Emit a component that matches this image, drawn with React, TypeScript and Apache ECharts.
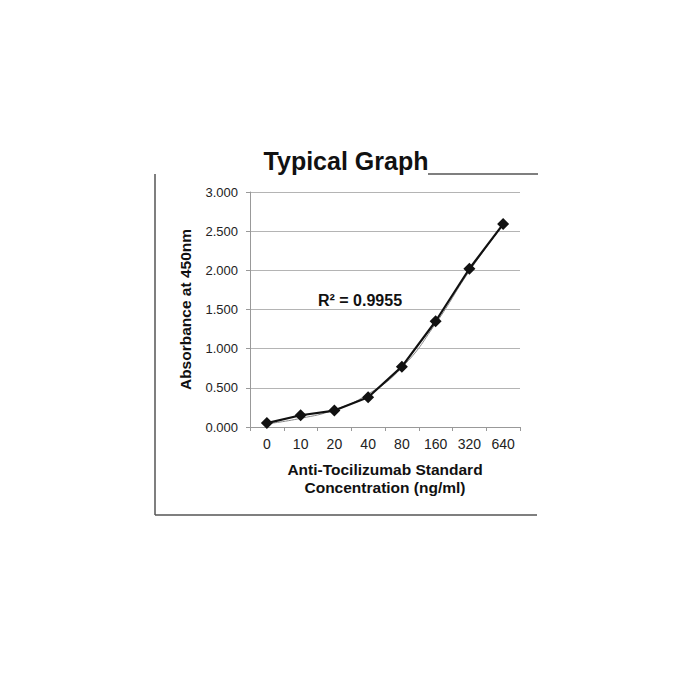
import { useEffect, useRef } from 'react';
import * as echarts from 'echarts';

// concentrations (ng/ml) on the category axis
const categories = ['0', '10', '20', '40', '80', '160', '320', '640'];
// mean absorbance at 450nm
const absorbance = [0.05, 0.15, 0.21, 0.38, 0.77, 1.35, 2.02, 2.59];
// thin grey trend line drawn behind the data
const trend = [0.04, 0.11, 0.22, 0.42, 0.76, 1.32, 1.99, 2.58];
const yTicks = [0, 0.5, 1, 1.5, 2, 2.5, 3];
const rSquared = 'R² = 0.9955';

const FONT = '"Liberation Sans", Arial, sans-serif';

const App = () => {
    const chartRef = useRef<HTMLDivElement>(null);

    useEffect(() => {
        if (!chartRef.current) return;
        const chart = echarts.init(chartRef.current, undefined, { renderer: 'svg' });

        chart.setOption({
            animation: false,
            backgroundColor: '#fff',
            textStyle: { fontFamily: FONT },
            graphic: [
                {
                    type: 'text',
                    x: 346,
                    y: 161,
                    style: {
                        text: 'Typical Graph',
                        fontSize: 25,
                        fontWeight: 'bold',
                        fill: '#111',
                        fontFamily: FONT,
                        align: 'center',
                        verticalAlign: 'middle'
                    }
                },
                {
                    type: 'text',
                    x: 360,
                    y: 300,
                    style: {
                        text: rSquared,
                        fontSize: 16,
                        fontWeight: 'bold',
                        fill: '#111',
                        fontFamily: FONT,
                        align: 'center',
                        verticalAlign: 'middle'
                    }
                },
                // frame around the plot (left, bottom and the piece of top to the right of the title)
                { type: 'line', shape: { x1: 155, y1: 174, x2: 155, y2: 515 }, style: { stroke: '#555', lineWidth: 1.5 } },
                { type: 'line', shape: { x1: 155, y1: 515, x2: 537, y2: 515 }, style: { stroke: '#555', lineWidth: 1.5 } },
                { type: 'line', shape: { x1: 428, y1: 174, x2: 538, y2: 174 }, style: { stroke: '#555', lineWidth: 1.5 } }
            ],
            grid: { left: 250, right: 180, top: 192, bottom: 273, containLabel: false },
            xAxis: {
                type: 'category',
                data: categories,
                boundaryGap: true,
                name: 'Anti-Tocilizumab Standard\nConcentration (ng/ml)',
                nameLocation: 'middle',
                nameGap: 33,
                nameTextStyle: { fontSize: 15.5, fontWeight: 'bold', color: '#111', lineHeight: 18 },
                axisLine: { lineStyle: { color: '#999', width: 1 } },
                axisTick: { show: true, length: 4, lineStyle: { color: '#999' } },
                axisLabel: { fontSize: 14, color: '#222', margin: 10 },
                splitLine: { show: false }
            },
            yAxis: {
                type: 'value',
                min: yTicks[0],
                max: yTicks[yTicks.length - 1],
                interval: 0.5,
                name: 'Absorbance at 450nm',
                nameLocation: 'middle',
                nameGap: 57,
                nameTextStyle: { fontSize: 15.5, fontWeight: 'bold', color: '#111' },
                axisLine: { show: true, lineStyle: { color: '#999', width: 1 } },
                axisTick: { show: true, length: 4, lineStyle: { color: '#999' } },
                axisLabel: {
                    fontSize: 13,
                    color: '#222',
                    margin: 12,
                    formatter: (v: number) => v.toFixed(3)
                },
                splitLine: { lineStyle: { color: '#b4b4b4', width: 1 } }
            },
            series: [
                {
                    name: 'trend',
                    type: 'line',
                    data: trend,
                    smooth: true,
                    symbol: 'none',
                    lineStyle: { color: '#888', width: 1 },
                    z: 1
                },
                {
                    name: 'absorbance',
                    type: 'line',
                    data: absorbance,
                    symbol: 'diamond',
                    symbolSize: 12,
                    itemStyle: { color: '#111' },
                    lineStyle: { color: '#111', width: 2.2 },
                    z: 2
                }
            ]
        });

        return () => {
            chart.dispose();
        };
    }, []);

    return (
        <div
            ref={chartRef}
            style={{ position: 'fixed', left: 0, top: 0, width: '700px', height: '700px' }}
        />
    );
};

export default App;
